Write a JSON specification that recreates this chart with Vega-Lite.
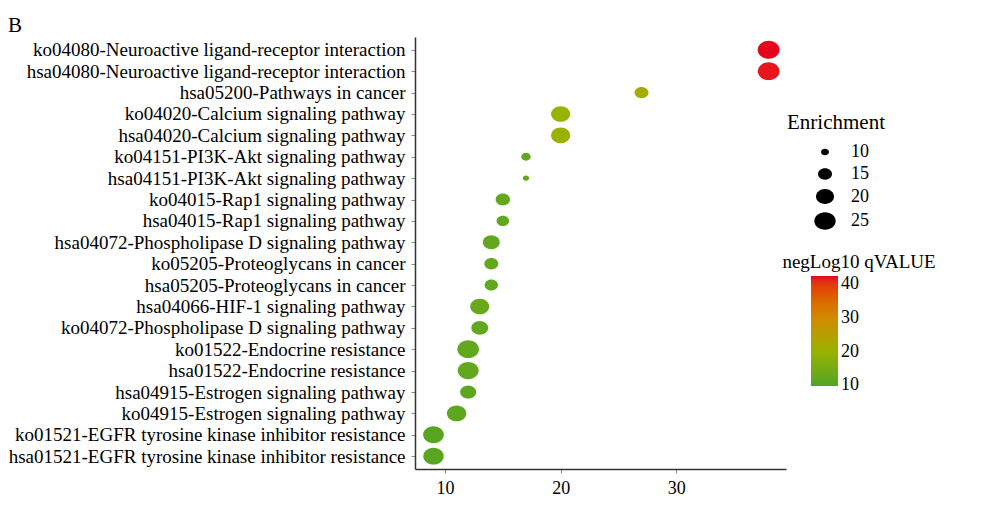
{
  "$schema": "https://vega.github.io/schema/vega-lite/v6.json",
  "autosize": "none",
  "width": 371,
  "height": 432,
  "padding": {"left": 415, "top": 37, "right": 199, "bottom": 39},
  "background": "white",
  "title": {"text": "B", "anchor": "start", "frame": "group", "dx": -407, "offset": -16, "baseline": "alphabetic", "font": "Liberation Serif", "fontSize": 21, "fontWeight": "normal", "color": "black"},
  "config": {
    "view": {"stroke": null},
    "font": "Liberation Serif"
  },
  "data": {
    "values": [
      {"term": "ko04080-Neuroactive ligand-receptor interaction", "count": 38, "Enrichment": 26, "qvalue": 42.4},
      {"term": "hsa04080-Neuroactive ligand-receptor interaction", "count": 38, "Enrichment": 25.5, "qvalue": 42.0},
      {"term": "hsa05200-Pathways in cancer", "count": 27, "Enrichment": 15, "qvalue": 22},
      {"term": "ko04020-Calcium signaling pathway", "count": 20, "Enrichment": 21.5, "qvalue": 20},
      {"term": "hsa04020-Calcium signaling pathway ", "count": 20, "Enrichment": 21.5, "qvalue": 20},
      {"term": "ko04151-PI3K-Akt signaling pathway", "count": 17, "Enrichment": 11, "qvalue": 12},
      {"term": "hsa04151-PI3K-Akt signaling pathway", "count": 17, "Enrichment": 9, "qvalue": 12},
      {"term": "ko04015-Rap1 signaling pathway", "count": 15, "Enrichment": 15.5, "qvalue": 12},
      {"term": "hsa04015-Rap1 signaling pathway", "count": 15, "Enrichment": 13.5, "qvalue": 12},
      {"term": "hsa04072-Phospholipase D signaling pathway", "count": 14, "Enrichment": 18.5, "qvalue": 12},
      {"term": "ko05205-Proteoglycans in cancer", "count": 14, "Enrichment": 15, "qvalue": 12},
      {"term": "hsa05205-Proteoglycans in cancer", "count": 14, "Enrichment": 14.5, "qvalue": 12},
      {"term": "hsa04066-HIF-1 signaling pathway", "count": 13, "Enrichment": 21.5, "qvalue": 13},
      {"term": "ko04072-Phospholipase D signaling pathway", "count": 13, "Enrichment": 18.5, "qvalue": 12},
      {"term": "ko01522-Endocrine resistance", "count": 12, "Enrichment": 25.5, "qvalue": 12},
      {"term": "hsa01522-Endocrine resistance", "count": 12, "Enrichment": 24.5, "qvalue": 12},
      {"term": "hsa04915-Estrogen signaling pathway", "count": 12, "Enrichment": 17.5, "qvalue": 11.5},
      {"term": "ko04915-Estrogen signaling pathway", "count": 11, "Enrichment": 22, "qvalue": 11.5},
      {"term": "ko01521-EGFR tyrosine kinase inhibitor resistance", "count": 9, "Enrichment": 24, "qvalue": 10.8},
      {"term": "hsa01521-EGFR tyrosine kinase inhibitor resistance", "count": 9, "Enrichment": 23.5, "qvalue": 10.8}
    ]
  },
  "mark": {
    "type": "point",
    "filled": true,
    "opacity": 1,
    "shape": "M-1,0 C-1,-0.4529 -0.5523,-0.82 0,-0.82 C0.5523,-0.82 1,-0.4529 1,0 C1,0.4529 0.5523,0.82 0,0.82 C-0.5523,0.82 -1,0.4529 -1,0 Z"
  },
  "encoding": {
    "x": {
      "field": "count", "type": "quantitative",
      "scale": {"domain": [7.4, 39.5], "nice": false, "zero": false},
      "axis": {"title": null, "values": [10, 20, 30], "grid": false, "domainColor": "#333333", "domainWidth": 1.5, "tickColor": "#888888", "tickSize": 4, "labelFontSize": 18, "labelColor": "black", "labelPadding": 6, "labelFont": "Liberation Serif"}
    },
    "y": {
      "field": "term", "type": "nominal", "sort": null,
      "scale": {"type": "point", "padding": 0.6},
      "axis": {"title": null, "grid": false, "domainColor": "#333333", "domainWidth": 1.5, "tickColor": "#888888", "tickSize": 4, "labelFontSize": 19, "labelColor": "black", "labelPadding": 6, "labelFont": "Liberation Serif", "labelLimit": 500}
    },
    "size": {
      "field": "Enrichment", "type": "quantitative",
      "scale": {"domain": [7.5, 27], "range": [0, 507], "zero": false},
      "legend": {
        "title": "Enrichment", "orient": "none", "legendX": 372, "legendY": 75, "values": [10, 15, 20, 25],
        "titleFont": "Liberation Serif", "titleFontSize": 21, "titleFontWeight": "normal", "titleColor": "black", "titlePadding": 10,
        "labelFont": "Liberation Serif", "labelFontSize": 18, "labelColor": "black", "labelOffset": 15, "symbolOffset": 27,
        "symbolFillColor": "black", "symbolStrokeColor": "black", "symbolStrokeWidth": 0, "rowPadding": 4,
        "symbolType": "M-1,0 C-1,-0.4529 -0.5523,-0.82 0,-0.82 C0.5523,-0.82 1,-0.4529 1,0 C1,0.4529 0.5523,0.82 0,0.82 C-0.5523,0.82 -1,0.4529 -1,0 Z"
      }
    },
    "color": {
      "field": "qvalue", "type": "quantitative",
      "scale": {"domain": [9.8, 20, 30, 42.5], "range": ["#52a324", "#98b200", "#d08a00", "#e6001c"]},
      "legend": {
        "title": "negLog10  qVALUE", "orient": "none", "legendX": 365, "legendY": 216, "values": [10, 20, 30, 40],
        "titleFont": "Liberation Serif", "titleFontSize": 19, "titleFontWeight": "normal", "titleColor": "black", "titlePadding": 4,
        "titleAnchor": "end", "titleAlign": "center",
        "labelFont": "Liberation Serif", "labelFontSize": 18, "labelColor": "black", "labelOffset": 3,
        "gradientLength": 110, "gradientThickness": 27, "gradientStrokeWidth": 0
      }
    }
  }
}
